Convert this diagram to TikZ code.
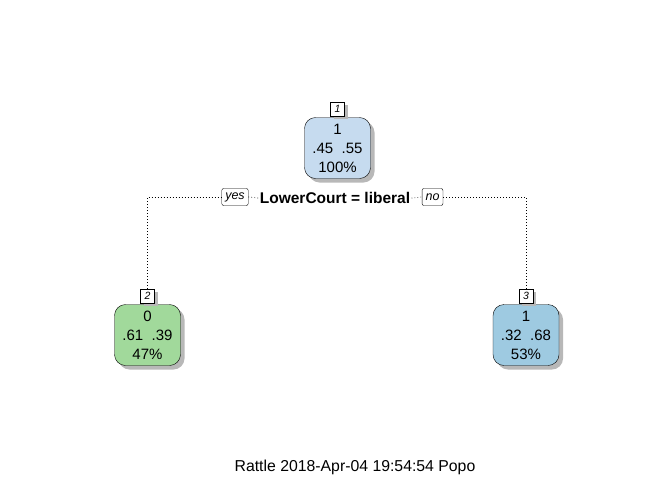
\documentclass[tikz,border=0pt]{standalone}
\usepackage{fontspec}
\setmainfont{Liberation Sans}
\usetikzlibrary{shadows,positioning}
\definecolor{rootblue}{RGB}{198,219,239}
\definecolor{leafgreen}{RGB}{161,217,155}
\definecolor{leafblue}{RGB}{158,202,225}

\begin{document}
\begin{tikzpicture}[x=1pt,y=-1pt,thick,
                    tree node/.style={draw,thin,rounded corners=11pt,minimum width=66pt,minimum height=61pt,
                      align=center,inner sep=0pt,font=\fontsize{15}{19}\selectfont,
                      drop shadow={shadow xshift=4pt,shadow yshift=-4pt,fill=black!28,opacity=1}},
                    num node/.style={draw,thin,fill=white,minimum width=14pt,minimum height=14pt,inner sep=0pt,
                      font=\fontsize{10.5}{10.5}\itshape\selectfont,
                      drop shadow={shadow xshift=3pt,shadow yshift=-3pt,fill=black!28,opacity=1}},
                    answer node/.style={draw,thin,fill=white,rounded corners=2pt,minimum height=17pt,inner xsep=3.5pt,
                      inner ysep=0pt,font=\fontsize{12.5}{12.5}\itshape\selectfont}]
  \useasboundingbox (0,0) rectangle (672,480);
  \node[tree node,fill=rootblue] (1) at (337.5,148) {1\\.45\ \ .55\\100\%};
  \node[num node,above=1pt of 1] (n1) {1};
  \node[tree node,fill=leafgreen] (2) at (147.5,335) {0\\.61\ \ .39\\47\%};
  \node[num node,above=1pt of 2] (n2) {2};
  \node[tree node,fill=leafblue] (3) at (526,335) {1\\.32\ \ .68\\53\%};
  \node[num node,above=1pt of 3] (n3) {3};
  \node[font=\fontsize{15.5}{15.5}\bfseries\selectfont,inner sep=1pt] (split) at (335,198) {LowerCourt = liberal};
  \node[answer node] (yes) at (235,197) {yes};
  \node[answer node] (no) at (432.5,197) {no};
  \path[line width=0.7pt,dash pattern=on 0.7pt off 2.3pt]
    (n2.north) edge [to path={|- (\tikztotarget)}] (yes.west)
    (yes.east) edge (split.west)
    (split.east) edge (no.west)
    (no.east) edge [to path={-| (\tikztotarget)}] (n3.north);
  \node[font=\fontsize{15.8}{15.8}\selectfont] (stamp) at (355,467) {Rattle 2018-Apr-04 19:54:54 Popo};
\end{tikzpicture}
\end{document}
